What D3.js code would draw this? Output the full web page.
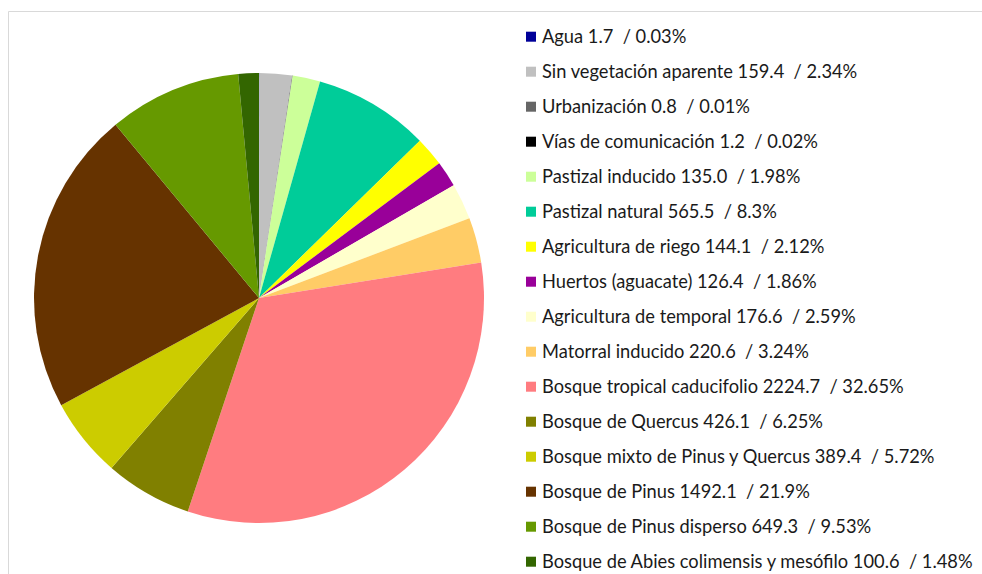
<!DOCTYPE html>
<html>
<head>
<meta charset="utf-8">
<script src="https://cdn.jsdelivr.net/npm/d3@7"></script>
<style>
  html, body { margin: 0; padding: 0; background: #fff; }
  svg { display: block; }
  .legend text { font-family: Lato, "Open Sans", sans-serif; fill: #1a1a1a; white-space: pre; }
</style>
</head>
<body>
<svg id="chart" width="982" height="574"></svg>
<script>
// Land cover classes (area, share of total)
const categories = [
  "Agua", "Sin vegetación aparente", "Urbanización", "Vías de comunicación",
  "Pastizal inducido", "Pastizal natural", "Agricultura de riego", "Huertos (aguacate)",
  "Agricultura de temporal", "Matorral inducido", "Bosque tropical caducifolio",
  "Bosque de Quercus", "Bosque mixto de Pinus y Quercus", "Bosque de Pinus",
  "Bosque de Pinus disperso", "Bosque de Abies colimensis y mesófilo"
];
const areas = [1.7, 159.4, 0.8, 1.2, 135.0, 565.5, 144.1, 126.4, 176.6, 220.6,
               2224.7, 426.1, 389.4, 1492.1, 649.3, 100.6];
const areaLabels = ["1.7", "159.4", "0.8", "1.2", "135.0", "565.5", "144.1", "126.4",
                    "176.6", "220.6", "2224.7", "426.1", "389.4", "1492.1", "649.3", "100.6"];
const percentLabels = ["0.03%", "2.34%", "0.01%", "0.02%", "1.98%", "8.3%", "2.12%", "1.86%",
                       "2.59%", "3.24%", "32.65%", "6.25%", "5.72%", "21.9%", "9.53%", "1.48%"];
const colors = ["#000099", "#c0c0c0", "#666666", "#000000", "#ccff99", "#00cc99", "#ffff00",
                "#990099", "#ffffcc", "#ffcc66", "#ff7c80", "#808000", "#cccc00", "#663300",
                "#669900", "#336600"];

const svg = d3.select("#chart");

// outer frame
svg.append("path")
  .attr("d", "M8.5,574 L8.5,11.5 L982,11.5")
  .attr("fill", "none")
  .attr("stroke", "#d9d9d9")
  .attr("stroke-width", 1);

// pie
const cx = 259, cy = 298, radius = 225;
const color = d3.scaleOrdinal().domain(categories).range(colors);
const pie = d3.pie().sort(null).value((d, i) => areas[i]);
const arc = d3.arc().innerRadius(0).outerRadius(radius);

svg.append("g")
  .attr("transform", `translate(${cx},${cy})`)
  .selectAll("path")
  .data(pie(categories))
  .join("path")
  .attr("d", arc)
  .attr("fill", d => color(d.data));

// legend
const legendX = 526, legendTop = 36.7, rowStep = 35, box = 10;
const legend = svg.append("g").attr("class", "legend");
const rows = legend.selectAll("g")
  .data(categories)
  .join("g")
  .attr("transform", (d, i) => `translate(${legendX},${legendTop + i * rowStep})`);

rows.append("rect")
  .attr("x", 0).attr("y", -box / 2)
  .attr("width", box).attr("height", box)
  .attr("fill", d => color(d));

const texts = rows.append("text")
  .attr("x", 16)
  .attr("dy", "0.36em")
  .attr("font-size", 16)
  .text((d, i) => `${d} ${areaLabels[i]}  / ${percentLabels[i]}`);

// size the type so the longest entry spans the legend column
let longest = 0;
texts.each(function () { longest = Math.max(longest, this.getComputedTextLength()); });
const fs = 16 * 431 / longest;
texts.attr("font-size", fs);
</script>
</body>
</html>
